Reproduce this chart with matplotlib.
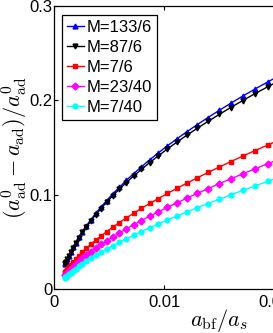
import matplotlib
matplotlib.use("Agg")
import matplotlib.pyplot as plt

plt.rcParams['mathtext.fontset'] = 'cm'
plt.rcParams['font.family'] = ['Liberation Sans', 'DejaVu Sans']

# a_bf / a_s sample points
x = [0.001000, 0.001019, 0.001077, 0.001173, 0.001307, 0.001480, 0.001691,
     0.001941, 0.002229, 0.002555, 0.002920, 0.003323, 0.003765, 0.004245,
     0.004763, 0.005320, 0.005915, 0.006549, 0.007221, 0.007931, 0.008680,
     0.009467, 0.010293, 0.011157, 0.012059, 0.013000, 0.013979, 0.014997,
     0.016053, 0.017147, 0.018280, 0.019451, 0.020661, 0.021909]

y_133_6 = [0.0270, 0.0275, 0.0291, 0.0317, 0.0351, 0.0392, 0.0440, 0.0492,
           0.0549, 0.0608, 0.0670, 0.0735, 0.0801, 0.0869, 0.0938, 0.1008,
           0.1079, 0.1151, 0.1223, 0.1296, 0.1370, 0.1443, 0.1518, 0.1592,
           0.1667, 0.1742, 0.1817, 0.1893, 0.1969, 0.2045, 0.2121, 0.2197,
           0.2273, 0.2350]
y_87_6 = [0.0270, 0.0275, 0.0291, 0.0316, 0.0349, 0.0389, 0.0435, 0.0486,
          0.0541, 0.0599, 0.0660, 0.0723, 0.0787, 0.0853, 0.0920, 0.0989,
          0.1058, 0.1128, 0.1198, 0.1269, 0.1340, 0.1412, 0.1485, 0.1557,
          0.1630, 0.1703, 0.1776, 0.1850, 0.1924, 0.1998, 0.2072, 0.2146,
          0.2220, 0.2294]
y_7_6 = [0.0180, 0.0183, 0.0193, 0.0209, 0.0230, 0.0255, 0.0285, 0.0318,
         0.0353, 0.0391, 0.0432, 0.0473, 0.0517, 0.0562, 0.0608, 0.0655,
         0.0704, 0.0753, 0.0803, 0.0855, 0.0907, 0.0959, 0.1013, 0.1067,
         0.1122, 0.1178, 0.1235, 0.1292, 0.1350, 0.1409, 0.1468, 0.1528,
         0.1588, 0.1649]
y_23_40 = [0.0150, 0.0153, 0.0161, 0.0174, 0.0191, 0.0212, 0.0237, 0.0265,
           0.0295, 0.0327, 0.0361, 0.0396, 0.0433, 0.0472, 0.0512, 0.0552,
           0.0594, 0.0637, 0.0681, 0.0726, 0.0772, 0.0818, 0.0866, 0.0914,
           0.0963, 0.1013, 0.1064, 0.1116, 0.1168, 0.1221, 0.1275, 0.1329,
           0.1385, 0.1441]
y_7_40 = [0.0120, 0.0122, 0.0129, 0.0140, 0.0154, 0.0172, 0.0192, 0.0215,
          0.0240, 0.0267, 0.0296, 0.0326, 0.0358, 0.0390, 0.0424, 0.0459,
          0.0495, 0.0532, 0.0570, 0.0609, 0.0649, 0.0690, 0.0731, 0.0774,
          0.0817, 0.0861, 0.0906, 0.0951, 0.0998, 0.1045, 0.1093, 0.1142,
          0.1191, 0.1242]

labels = ['M=133/6', 'M=87/6', 'M=7/6', 'M=23/40', 'M=7/40']
series = [y_133_6, y_87_6, y_7_6, y_23_40, y_7_40]
colors = ['#0000ff', '#000000', '#ff0000', '#ff00ff', '#00ffff']
markers = ['^', 'v', 's', 'D', 'o']

fig = plt.figure(figsize=(2.73, 3.33), dpi=100)
# axes run past the right edge of the picture, like the original crop
ax = fig.add_axes([54.3 / 273, 44 / 333, 329.7 / 273, 283 / 333])

for y, lab, c, m in zip(series, labels, colors, markers):
    ax.plot(x, y, color=c, marker=m, markersize=3.5, lw=1, label=lab)

ax.set_xlim(0, 0.03)
ax.set_ylim(0, 0.3)
ax.set_xticks([0, 0.01, 0.02, 0.03])
ax.set_xticklabels(['0', '0.01', '0.02', '0.03'])
ax.set_yticks([0, 0.1, 0.2, 0.3])
ax.set_yticklabels(['0', '0.1', '0.2', '0.3'])
ax.tick_params(direction='in', top=True, right=True, length=3, width=0.8,
               labelsize=12)
ax.tick_params(axis='x', pad=4.5)
ax.tick_params(axis='y', pad=1.5)
for sp in ax.spines.values():
    sp.set_linewidth(0.9)

ax.set_xlabel(r'$a_{\rm bf}/a_s$', fontsize=16, labelpad=-2)
ax.set_ylabel(r'$(a^0_{\rm ad}-a_{\rm ad})/a^0_{\rm ad}$', fontsize=16,
              labelpad=-0.5)

leg = ax.legend(loc='upper left', bbox_to_anchor=(7.7 / 329.7, 1 - 9 / 283),
                borderaxespad=0, fontsize=12, handlelength=1.0,
                handletextpad=0.15, labelspacing=0.3, borderpad=0.3,
                fancybox=False, framealpha=1)
leg.get_frame().set_edgecolor('black')
leg.get_frame().set_linewidth(0.9)

fig.savefig('out.png', dpi=100)
